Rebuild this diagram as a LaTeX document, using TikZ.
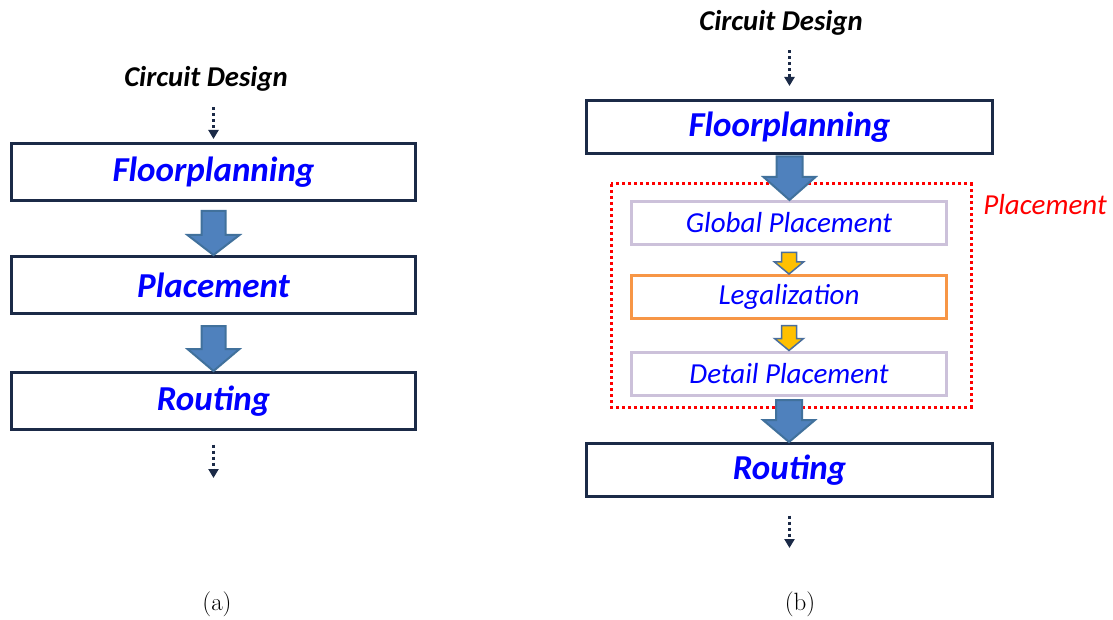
\documentclass[tikz,border=0pt]{standalone}
\usepackage{fontspec}
\newfontfamily\calibri{Carlito}
\usetikzlibrary{calc,arrows.meta}
\definecolor{boxNavy}{HTML}{1B2A47}
\definecolor{arrowBlue}{HTML}{4F81BD}
\definecolor{arrowEdge}{HTML}{41719C}
\definecolor{arrowYellow}{HTML}{FFC000}
\definecolor{arrowYellowEdge}{HTML}{4A6E9C}
\definecolor{boxLavender}{HTML}{CCC1DA}
\definecolor{boxOrange}{HTML}{F79646}
\definecolor{textBlue}{HTML}{0000FF}
\newcommand\stageFont{\calibri\bfseries\itshape\fontsize{35}{38}\selectfont}
\newcommand\stepFont{\calibri\itshape\fontsize{29}{31}\selectfont}
\newcommand\inputFont{\calibri\bfseries\itshape\fontsize{28.7}{30}\selectfont}
\newcommand\captionFont{\fontsize{25}{28}\selectfont}
\newcommand\colLeft{213.5}
\newcommand\colRight{789.5}
\newcommand\colSub{789}
\newcommand\drawBlockArrow[7]{
	\draw[#1] let \p1=(#2), \p2=(#3) in
	(\x1-#4,\y1-#7) -- (\x1+#4,\y1-#7) -- (\x1+#4,\y2+#6) -- (\x1+#5,\y2+#6) --
	(\x1,\y2) -- (\x1-#5,\y2+#6) -- (\x1-#4,\y2+#6) -- cycle;
}
\tikzset{
	stage/.style={draw=boxNavy, line width=3pt, text=textBlue, font=\stageFont, inner sep=0pt},
	stageA/.style={stage, minimum width=404pt, minimum height=57pt},
	stageB/.style={stage, minimum width=406pt, minimum height=53pt},
	substep/.style={draw=boxLavender, line width=3pt, fill=white, text=textBlue, font=\stepFont,
		inner sep=0pt, minimum width=315pt, minimum height=43pt},
	legalstep/.style={substep, draw=boxOrange},
	bigarrow/.style={fill=arrowBlue, draw=arrowEdge, line width=2pt, line join=miter},
	smallarrow/.style={fill=arrowYellow, draw=arrowYellowEdge, line width=1.5pt, line join=miter},
	dotarrow/.style={draw=boxNavy, line width=2.5pt, dash pattern=on 3pt off 3pt,
		-{Triangle[width=10pt,length=9pt]}},
	inputlabel/.style={font=\inputFont, text=black},
	caption/.style={font=\captionFont}
}
\begin{document}
\begin{tikzpicture}[x=1pt,y=-1pt]
	\useasboundingbox (0,0) rectangle (1113,620);
	
	% (a) plain flow
	\node[inputlabel] (circA) at (206,79) {Circuit Design};
	\node[stageA] (floorA) at (\colLeft,172) {Floorplanning};
	\node[stageA] (placeA) at (\colLeft,285) {Placement};
	\node[stageA] (routA) at (\colLeft,401) {Routing};
	\coordinate (endA) at (\colLeft,478);
	
	\draw[dotarrow, shorten <=12pt, shorten >=3pt] (circA.south -| floorA.north) -- (floorA.north);
	\drawBlockArrow{bigarrow}{floorA.south}{placeA.north}{12pt}{26pt}{20pt}{9pt}
	\drawBlockArrow{bigarrow}{placeA.south}{routA.north}{12pt}{26pt}{22pt}{11pt}
	\draw[dotarrow, shorten <=13.5pt] (routA.south) -- (endA);
	\node[caption] (capA) at (217,604) {(a)};
	
	% (b) placement split into three steps
	\node[inputlabel] (circB) at (781,23) {Circuit Design};
	\node[stageB] (floorB) at (\colRight,127) {Floorplanning};
	\draw[red, line width=3pt, dash pattern=on 3pt off 3pt] (611,184) rectangle (971,407);
	\node[text=red, font=\stepFont] (placeLabel) at (1045,205) {Placement};
	\node[substep] (globB) at (\colSub,223) {Global Placement};
	\node[legalstep] (legalB) at (\colSub,297) {Legalization};
	\node[substep] (detailB) at (\colSub,373.5) {Detail Placement};
	\node[stageB] (routB) at (\colRight,470) {Routing};
	\coordinate (endB) at (\colRight,548);
	
	\draw[dotarrow, shorten <=11pt, shorten >=13pt] (circB.south -| floorB.north) -- (floorB.north);
	\drawBlockArrow{bigarrow}{floorB.south}{globB.north}{13pt}{26pt}{23pt}{1.5pt}
	\drawBlockArrow{smallarrow}{globB.south}{legalB.north}{7.5pt}{14.5pt}{12pt}{6.5pt}
	\drawBlockArrow{smallarrow}{legalB.south}{detailB.north}{7.5pt}{14.5pt}{12pt}{5.5pt}
	\drawBlockArrow{bigarrow}{detailB.south}{routB.north}{13pt}{26pt}{22pt}{3.5pt}
	\draw[dotarrow, shorten <=17.5pt] (routB.south) -- (endB);
	\node[caption] (capB) at (800,604) {(b)};
\end{tikzpicture}
\end{document}
